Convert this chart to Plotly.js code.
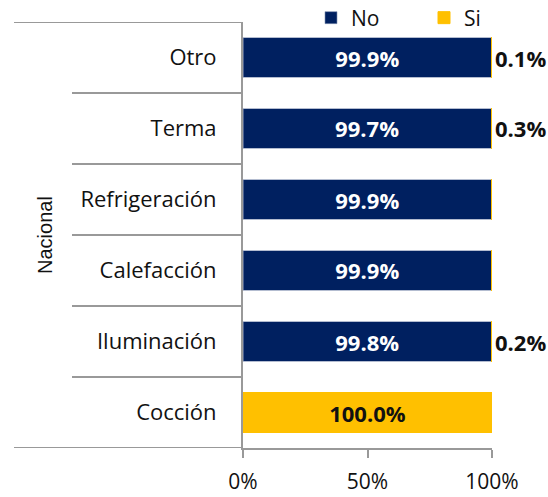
<!DOCTYPE html>
<html><head><meta charset="utf-8">
<script src="https://cdn.plot.ly/plotly-3.0.1.min.js"></script>
<style>body{margin:0;background:#fff}#c{width:548px;height:497px}</style>
</head><body><div id="c"></div>
<script>
const categories = ["Cocción","Iluminación","Calefacción","Refrigeración","Terma","Otro"];
const noValues = [0, 99.8, 99.9, 99.9, 99.7, 99.9];
const siValues = [100.0, 0.2, 0.1, 0.1, 0.3, 0.1];
const noLabels = ["", "99.8%", "99.9%", "99.9%", "99.7%", "99.9%"];
const siLabels = ["100.0%", "0.2%", "", "", "0.3%", "0.1%"];
const groupLabel = "Nacional";
const tickVals = [0, 50, 100];
const tickText = ["0%", "50%", "100%"];

const FONT = "Open Sans, sans-serif";
const navy = "#002060", gold = "#FFC000";

const traces = [
  {type:"bar", orientation:"h", name:"No", y:categories, x:noValues,
   marker:{color:navy, line:{color:"#8090b0", width:0.6}}, text:noLabels, textposition:"inside", insidetextanchor:"middle",
   textfont:{color:"#fff", size:22, family:FONT, weight:"bold"}, constraintext:"none", cliponaxis:false, hoverinfo:"none"},
  {type:"bar", orientation:"h", name:"Si", y:categories, x:siValues,
   marker:{color:gold, line:{color:gold, width:1}}, text:siLabels,
   textposition:siValues.map(v => v > 50 ? "inside" : "outside"), insidetextanchor:"middle",
   insidetextfont:{color:"#111", size:22, family:FONT, weight:"bold"},
   outsidetextfont:{color:"#111", size:22, family:FONT, weight:"bold"},
   textfont:{color:"#111", size:22, family:FONT, weight:"bold"},
   constraintext:"none", cliponaxis:false, hoverinfo:"none"}
];

const shapes = [];
const L = 243, W = 249; // plot left px & width
function px(p){ return (p - L)/W; }
for (let i = 0; i <= categories.length; i++) {
  const edge = (i === 0 || i === categories.length);
  shapes.push({type:"line", xref:"paper", yref:"y", x0:px(edge?14:72), x1:0, y0:i-0.5, y1:i-0.5,
    line:{color:"#999", width:2}});
}

const layout = {
  width:548, height:497, margin:{l:243, r:56, t:22, b:49, autoexpand:false},
  paper_bgcolor:"#fff", plot_bgcolor:"#fff",
  barmode:"stack", bargap:0.45, showlegend:true,
  legend:{orientation:"h", x:px(311), xanchor:"left", y:1+4/426, yanchor:"middle", font:{family:FONT, size:21, color:"#111"},
    traceorder:"normal", bgcolor:"rgba(0,0,0,0)", entrywidth:68, borderwidth:0},
  font:{family:FONT, size:22, color:"#111"},
  xaxis:{range:[0,100], tickvals:tickVals, ticktext:tickText, showgrid:false, zeroline:false,
    showline:true, linecolor:"#999", linewidth:2, ticks:"outside", ticklen:8, tickcolor:"#999", tickwidth:2,
    tickfont:{family:FONT, size:21, color:"#111"}, ticklabelstandoff:6},
  yaxis:{type:"category", categoryarray:categories, range:[-0.5,5.5], showgrid:false, zeroline:false,
    showline:true, linecolor:"#999", linewidth:2, ticks:"", tickfont:{family:FONT, size:22, color:"#111"}, ticklabelstandoff:20},
  shapes:shapes,
  annotations:[{text:groupLabel, xref:"paper", yref:"paper", x:px(32), y:0.5, textangle:-90, showarrow:false,
    font:{family:"Liberation Sans, Arial, sans-serif", size:20, color:"#111"}}]
};
Plotly.newPlot("c", traces, layout, {staticPlot:true});
</script></body></html>
